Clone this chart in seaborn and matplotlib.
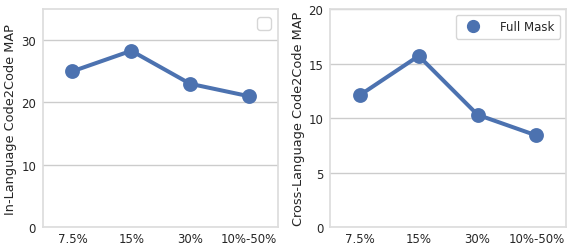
import numpy as np
import pandas as pd
import matplotlib
matplotlib.use('Agg')
import matplotlib.pyplot as plt
from matplotlib.lines import Line2D
import seaborn as sns

sns.set_theme(style="whitegrid", palette="deep")
plt.rcParams['font.family'] = ['DejaVu Sans']

mask_rates = ['7.5%', '15%', '30%', '10%-50%']
in_lang_map = [25.0, 28.3, 23.0, 21.0]
cross_lang_map = [12.1, 15.7, 10.3, 8.4]
series_name = 'Full Mask'

df_in = pd.DataFrame({'rate': mask_rates, 'map': in_lang_map, 'model': series_name})
df_cross = pd.DataFrame({'rate': mask_rates, 'map': cross_lang_map, 'model': series_name})

fig, axes = plt.subplots(1, 2, figsize=(5.71, 2.51), dpi=100)
blue = sns.color_palette('deep')[0]

for ax, df, ylabel, top, ticks in [
    (axes[0], df_in, 'In-Language Code2Code MAP', 35, [0, 10, 20, 30]),
    (axes[1], df_cross, 'Cross-Language Code2Code MAP', 20, [0, 5, 10, 15, 20]),
]:
    sns.pointplot(data=df, x='rate', y='map', hue='model', ax=ax,
                  linewidth=2.9, markersize=8.5, errorbar=None, legend=False)
    ax.set_ylim(0, top)
    ax.set_yticks(ticks)
    ax.set_xlim(-0.5, 3.5)
    ax.set_xlabel('')
    ax.set_ylabel(ylabel, fontsize=9.3)
    ax.tick_params(axis='y', labelsize=8.5, length=0, pad=5)
    ax.tick_params(axis='x', labelsize=8.5, length=0, pad=3.5)
    ax.grid(axis='x', visible=False)
    for s in ax.spines.values():
        s.set_color('#dddddd')

axes[0].legend(handles=[], loc='upper right', borderpad=0.45)
handle = Line2D([], [], color=blue, marker='o', linestyle='none', markersize=8.5)
axes[1].legend(handles=[handle], labels=[series_name], loc='upper right', fontsize=8.5,
               handletextpad=1.3, borderpad=0.45)

plt.subplots_adjust(left=0.0753, right=0.991, top=0.96, bottom=0.0916, wspace=0.221)

# keep the y label just clear of the tick labels
fig.canvas.draw()
renderer = fig.canvas.get_renderer()
for ax in axes:
    left_px = min(t.get_window_extent(renderer).x0 for t in ax.get_yticklabels())
    ax_box = ax.get_window_extent(renderer)
    x_axes = (left_px - 4 - ax_box.x0) / ax_box.width
    ax.yaxis.set_label_coords(x_axes, 0.5)

plt.savefig('out.png', dpi=100)
